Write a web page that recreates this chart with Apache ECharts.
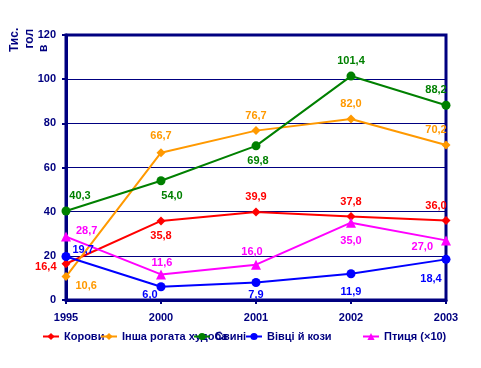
<!DOCTYPE html>
<html><head><meta charset="utf-8">
<script src="https://cdn.jsdelivr.net/npm/echarts@6/dist/echarts.min.js"></script>
<style>html,body{margin:0;padding:0;background:#fff}#c{width:481px;height:368px}</style>
</head><body><div id="c"></div>
<script>
var years = ['1995', '2000', '2001', '2002', '2003'];
var seriesNames = ['Корови', 'Інша рогата худоба', 'Свині', 'Вівці й кози', 'Птиця (\u00d710)'];
var cows = [16.4, 35.8, 39.9, 37.8, 36.0];
var otherCattle = [10.6, 66.7, 76.7, 82.0, 70.2];
var pigs = [40.3, 54.0, 69.8, 101.4, 88.2];
var sheepGoats = [19.7, 6.0, 7.9, 11.9, 18.4];
var poultry = [28.7, 11.6, 16.0, 35.0, 27.0];
var yTicks = [0, 20, 40, 60, 80, 100, 120];

// label placement per point: [position, dx, dy]
var labelPlace = [
  [['left',0,3],['bottom',0,0],['top',0,0],['top',0,0],['top',-10,0]],
  [['right',0,9],['top',0,-2],['top',0,0],['top',0,0],['top',-10,0]],
  [['top',14,0],['bottom',11,0],['bottom',2,0],['top',0,0],['top',-10,0]],
  [['right',-3,-7],['bottom',-11,-7],['bottom',0,-3],['bottom',0,3],['bottom',-15,5]],
  [['right',0,-6],['top',1,4],['top',-4,3],['bottom',0,3],['left',-3,7]]
];
var colors = ['#ff0000', '#ff9900', '#008000', '#0000ff', '#ff00ff'];
var symbols = ['diamond', 'diamond', 'circle', 'circle', 'triangle'];
var symbolSizes = [9, 9, 9, 9, 10];
var allValues = [cows, otherCattle, pigs, sheepGoats, poultry];
var navy = '#000080';

function fmt(v){ return v.toFixed(1).replace('.', ','); }

var series = allValues.map(function(vals, si){
  return {
    name: seriesNames[si],
    type: 'line',
    symbol: symbols[si],
    symbolSize: symbolSizes[si],
    color: colors[si],
    lineStyle: {width: 2, color: colors[si]},
    itemStyle: {color: colors[si]},
    animation: false,
    data: vals.map(function(v, i){
      var p = labelPlace[si][i];
      return {value: v, label: {show: true, position: p[0], offset: [p[1], p[2]],
        formatter: fmt(v), color: colors[si], fontWeight: 'bold', fontSize: 11,
        fontFamily: 'Liberation Sans, Arial, sans-serif'}};
    })
  };
});

var legendLefts = [42, 100, 193, 245, 362];
var legends = seriesNames.map(function(n, i){
  return {data: [n], left: legendLefts[i], top: 331, padding: 0, itemWidth: 16, itemHeight: 9,
    itemGap: 0, textStyle: {color: navy, fontWeight: 'bold', fontSize: 11,
    fontFamily: 'Liberation Sans, Arial, sans-serif'}};
});

var chart = echarts.init(document.getElementById('c'), null, {renderer: 'canvas'});
chart.setOption({
  backgroundColor: '#ffffff',
  animation: false,
  grid: {left: 66, right: 35, top: 35, bottom: 68, show: true, borderColor: navy, borderWidth: 3},
  legend: legends,
  xAxis: {type: 'category', data: years, boundaryGap: false,
    axisLine: {lineStyle: {color: navy, width: 3}},
    axisTick: {show: true, alignWithLabel: true, length: 4, lineStyle: {color: navy, width: 2}},
    axisLabel: {color: navy, fontWeight: 'bold', fontSize: 11, margin: 12,
      fontFamily: 'Liberation Sans, Arial, sans-serif'}},
  yAxis: {type: 'value', min: yTicks[0], max: yTicks[yTicks.length-1], interval: 20,
    axisLine: {show: true, lineStyle: {color: navy, width: 3}},
    axisTick: {show: true, length: 4, lineStyle: {color: navy, width: 2}},
    splitLine: {show: true, lineStyle: {color: navy, width: 1}},
    axisLabel: {color: navy, fontWeight: 'bold', fontSize: 11, margin: 10,
      fontFamily: 'Liberation Sans, Arial, sans-serif'}},
  graphic: [
    {type: 'text', x: 15, y: 52, rotation: Math.PI/2,
      style: {text: 'Тис.', fill: navy, font: 'bold 12px Liberation Sans, Arial, sans-serif', align: 'left', verticalAlign: 'middle'}},
    {type: 'text', x: 30, y: 29, rotation: Math.PI/2,
      style: {text: 'гол', fill: navy, font: 'bold 12px Liberation Sans, Arial, sans-serif', align: 'right', verticalAlign: 'middle'}},
    {type: 'text', x: 44, y: 52, rotation: Math.PI/2,
      style: {text: 'в', fill: navy, font: 'bold 12px Liberation Sans, Arial, sans-serif', align: 'left', verticalAlign: 'middle'}}
  ],
  series: series
});
</script></body></html>
